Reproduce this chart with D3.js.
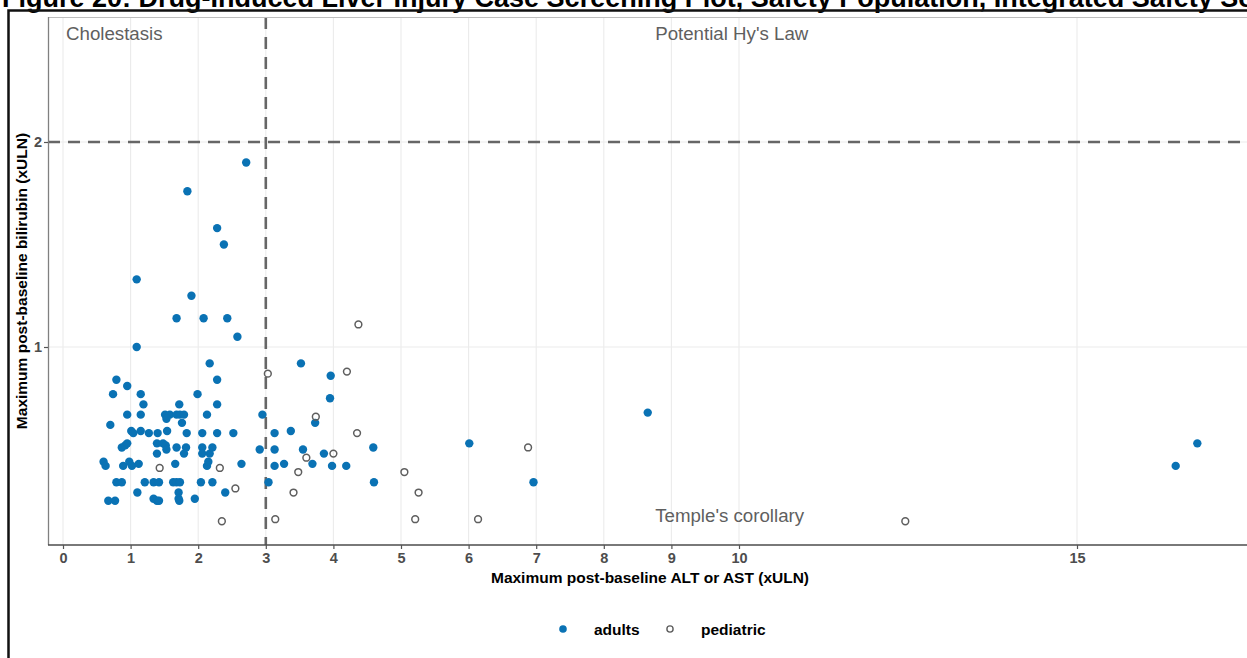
<!DOCTYPE html>
<html>
<head>
<meta charset="utf-8">
<script src="https://cdn.jsdelivr.net/npm/d3@7"></script>
<style>
  html, body { margin: 0; padding: 0; background: #fff; overflow: hidden; }
  svg { display: block; font-family: "Liberation Sans", Arial, sans-serif; }
</style>
</head>
<body>
<svg id="chart" width="1247" height="658"></svg>
<script>
// ---- data ---------------------------------------------------------------
const titleText = "Figure 20: Drug-Induced Liver Injury Case Screening Plot, Safety Population, Integrated Safety Set";
const xLabel = "Maximum post-baseline ALT or AST (xULN)";
const yLabel = "Maximum post-baseline bilirubin (xULN)";

const xTicks = [0, 1, 2, 3, 4, 5, 6, 7, 8, 9, 10, 15];
const yTicks = [1, 2];

// reference thresholds: 3 x ULN transaminase, 2 x ULN bilirubin
const altLimit = 3;
const biliLimit = 2;

const quadrantLabels = ["Cholestasis", "Potential Hy's Law", "Temple's corollary"];

const groups = ["adults", "pediatric"];

const adultsAlt = [
  2.71, 1.84, 2.28, 2.38, 1.09, 1.90, 1.68, 2.08, 2.43, 2.58, 1.09, 2.17, 3.52,
  0.79, 0.95, 2.28, 3.96, 0.74, 1.15, 1.99, 1.19, 1.72, 2.28, 3.95,
  0.95, 1.15, 1.51, 1.58, 1.53, 1.68, 1.73, 1.79, 1.76, 2.13, 2.95, 3.73,
  0.70, 1.01, 1.04, 1.15, 1.27, 1.40, 1.54, 1.83, 2.06, 2.28, 2.52, 3.13, 3.37,
  0.87, 0.92, 0.95, 1.39, 1.48, 1.52, 1.53, 1.39, 1.68, 1.82, 1.79, 2.06, 2.06,
  2.17, 2.21, 2.91, 3.13, 3.55, 3.86,
  0.60, 0.63, 0.89, 0.98, 1.02, 1.12, 1.66, 2.13, 2.15, 2.64, 3.13, 3.27, 3.69,
  3.98, 4.19,
  0.79, 0.87, 1.21, 1.34, 1.42, 1.63, 1.68, 1.73, 2.04, 2.21, 3.04,
  1.10, 1.71, 2.40,
  0.67, 0.77, 1.34, 1.39, 1.42, 1.71, 1.72, 1.95,
  4.59, 6.01, 4.60, 6.96, 8.65, 16.78, 16.46
];
const adultsBili = [
  1.90, 1.76, 1.58, 1.50, 1.33, 1.25, 1.14, 1.14, 1.14, 1.05, 1.00, 0.92, 0.92,
  0.84, 0.81, 0.84, 0.86, 0.77, 0.77, 0.77, 0.72, 0.72, 0.72, 0.75,
  0.67, 0.67, 0.67, 0.67, 0.65, 0.67, 0.67, 0.67, 0.63, 0.67, 0.67, 0.63,
  0.62, 0.59, 0.58, 0.59, 0.58, 0.58, 0.59, 0.58, 0.58, 0.58, 0.58, 0.58, 0.59,
  0.51, 0.52, 0.53, 0.53, 0.53, 0.52, 0.50, 0.48, 0.51, 0.51, 0.48, 0.51, 0.48,
  0.48, 0.51, 0.50, 0.50, 0.50, 0.48,
  0.44, 0.42, 0.42, 0.44, 0.42, 0.43, 0.43, 0.42, 0.44, 0.43, 0.42, 0.43, 0.43,
  0.42, 0.42,
  0.34, 0.34, 0.34, 0.34, 0.34, 0.34, 0.34, 0.34, 0.34, 0.34, 0.34,
  0.29, 0.29, 0.29,
  0.25, 0.25, 0.26, 0.25, 0.25, 0.26, 0.25, 0.26,
  0.51, 0.53, 0.34, 0.34, 0.68, 0.53, 0.42
];

const pediatricAlt = [
  3.03, 4.20, 4.37, 3.74, 4.35, 4.00, 3.60, 1.43, 2.32, 3.48,
  5.05, 2.55, 3.41, 5.26, 6.88, 2.35, 3.14, 5.21, 6.14, 12.46
];
const pediatricBili = [
  0.87, 0.88, 1.11, 0.66, 0.58, 0.48, 0.46, 0.41, 0.41, 0.39,
  0.39, 0.31, 0.29, 0.29, 0.51, 0.15, 0.16, 0.16, 0.16, 0.15
];

// ---- layout -------------------------------------------------------------
const W = 1247, H = 658;
const panel = { left: 48, top: 17, right: 1262, bottom: 545 };

const x = d3.scaleLinear().domain([0, 15]).range([63, 1077]);
const y = d3.scaleLinear().domain([1, 2]).range([347, 142]);

const colors = { adults: "#0a72b4", pediatric: "#5e5e5e" };
const labelGrey = "#5f5f5f";

const svg = d3.select("#chart");

svg.append("rect").attr("width", W).attr("height", H).attr("fill", "#fff");

// page title (runs off the top edge)
svg.append("text")
  .attr("x", 2).attr("y", 7)
  .attr("font-size", 27).attr("font-weight", "bold").attr("fill", "#000")
  .text(titleText);

// outer frame
svg.append("path")
  .attr("d", `M8.5,${H + 2}V10.5H${W + 2}`)
  .attr("fill", "none").attr("stroke", "#111").attr("stroke-width", 2.5);

svg.append("defs").append("clipPath").attr("id", "panelClip")
  .append("rect")
  .attr("x", panel.left).attr("y", panel.top)
  .attr("width", panel.right - panel.left).attr("height", panel.bottom - panel.top);

const plot = svg.append("g").attr("clip-path", "url(#panelClip)");

// grid
plot.selectAll("line.vgrid").data(xTicks).join("line")
  .attr("class", "vgrid")
  .attr("x1", d => x(d)).attr("x2", d => x(d))
  .attr("y1", panel.top).attr("y2", panel.bottom)
  .attr("stroke", "#ebebeb").attr("stroke-width", 1.1);

plot.selectAll("line.hgrid").data(yTicks).join("line")
  .attr("class", "hgrid")
  .attr("x1", panel.left).attr("x2", panel.right)
  .attr("y1", d => y(d)).attr("y2", d => y(d))
  .attr("stroke", "#ebebeb").attr("stroke-width", 1.1);

// threshold lines
plot.append("line")
  .attr("x1", x(altLimit)).attr("x2", x(altLimit))
  .attr("y1", panel.top).attr("y2", panel.bottom)
  .attr("stroke", "#666").attr("stroke-width", 2.6)
  .attr("stroke-dasharray", "12,8");

plot.append("line")
  .attr("x1", panel.left).attr("x2", panel.right)
  .attr("y1", y(biliLimit)).attr("y2", y(biliLimit))
  .attr("stroke", "#666").attr("stroke-width", 2.6)
  .attr("stroke-dasharray", "12,8");

// quadrant labels
const qx = x(8.76);
plot.append("text").attr("x", 66).attr("y", 40)
  .attr("font-size", 18.7).attr("fill", labelGrey).text(quadrantLabels[0]);
plot.append("text").attr("x", qx).attr("y", 40)
  .attr("font-size", 18.7).attr("fill", labelGrey).text(quadrantLabels[1]);
plot.append("text").attr("x", qx).attr("y", 522)
  .attr("font-size", 18.7).attr("fill", labelGrey).text(quadrantLabels[2]);

// points
const adults = adultsAlt.map((v, i) => ({ alt: v, bili: adultsBili[i] }));
const pediatric = pediatricAlt.map((v, i) => ({ alt: v, bili: pediatricBili[i] }));

plot.append("g").selectAll("circle").data(adults).join("circle")
  .attr("cx", d => x(d.alt)).attr("cy", d => y(d.bili))
  .attr("r", 4.2).attr("fill", colors.adults);

plot.append("g").selectAll("circle").data(pediatric).join("circle")
  .attr("cx", d => x(d.alt)).attr("cy", d => y(d.bili))
  .attr("r", 3.4).attr("fill", "none")
  .attr("stroke", colors.pediatric).attr("stroke-width", 1.5);

// panel border
svg.append("line")
  .attr("x1", panel.left).attr("x2", W).attr("y1", panel.top + 0.5).attr("y2", panel.top + 0.5)
  .attr("stroke", "#bdbdbd").attr("stroke-width", 1);
svg.append("line")
  .attr("x1", panel.left + 0.5).attr("x2", panel.left + 0.5).attr("y1", panel.top).attr("y2", panel.bottom)
  .attr("stroke", "#808080").attr("stroke-width", 1.3);
svg.append("line")
  .attr("x1", panel.left).attr("x2", W).attr("y1", panel.bottom).attr("y2", panel.bottom)
  .attr("stroke", "#4d4d4d").attr("stroke-width", 1.6);

// axes
const xAxis = svg.append("g")
  .attr("transform", `translate(0,${panel.bottom})`)
  .call(d3.axisBottom(x).tickValues(xTicks).tickFormat(d3.format("d")).tickSize(4).tickPadding(4));
xAxis.select(".domain").remove();
xAxis.selectAll(".tick line").attr("stroke", "#555").attr("stroke-width", 1.2);
xAxis.selectAll(".tick text")
  .attr("font-family", "Liberation Sans, Arial, sans-serif")
  .attr("font-size", 14.5).attr("font-weight", "bold").attr("fill", "#4d4d4d");

const yAxis = svg.append("g")
  .attr("transform", `translate(${panel.left},0)`)
  .call(d3.axisLeft(y).tickValues(yTicks).tickFormat(d3.format("d")).tickSize(4).tickPadding(2));
yAxis.select(".domain").remove();
yAxis.selectAll(".tick line").attr("stroke", "#555").attr("stroke-width", 1.2);
yAxis.selectAll(".tick text")
  .attr("font-family", "Liberation Sans, Arial, sans-serif")
  .attr("font-size", 14.5).attr("font-weight", "bold").attr("fill", "#4d4d4d");

// axis titles
svg.append("text")
  .attr("x", 650).attr("y", 583)
  .attr("text-anchor", "middle").attr("font-size", 15.5).attr("font-weight", "bold").attr("fill", "#000")
  .text(xLabel);

svg.append("text")
  .attr("transform", "translate(27,281) rotate(-90)")
  .attr("text-anchor", "middle").attr("font-size", 15.5).attr("font-weight", "bold").attr("fill", "#000")
  .text(yLabel);

// legend
const legend = svg.append("g");
const legendX = [563, 670];
legend.append("circle").attr("cx", legendX[0]).attr("cy", 629).attr("r", 3.8).attr("fill", colors.adults);
legend.append("circle").attr("cx", legendX[1]).attr("cy", 629).attr("r", 3.1)
  .attr("fill", "none").attr("stroke", colors.pediatric).attr("stroke-width", 1.4);
legend.selectAll("text").data(groups).join("text")
  .attr("x", (d, i) => legendX[i] + 31)
  .attr("y", 635)
  .attr("font-size", 15.5).attr("font-weight", "bold").attr("fill", "#000")
  .text(d => d);
</script>
</body>
</html>
